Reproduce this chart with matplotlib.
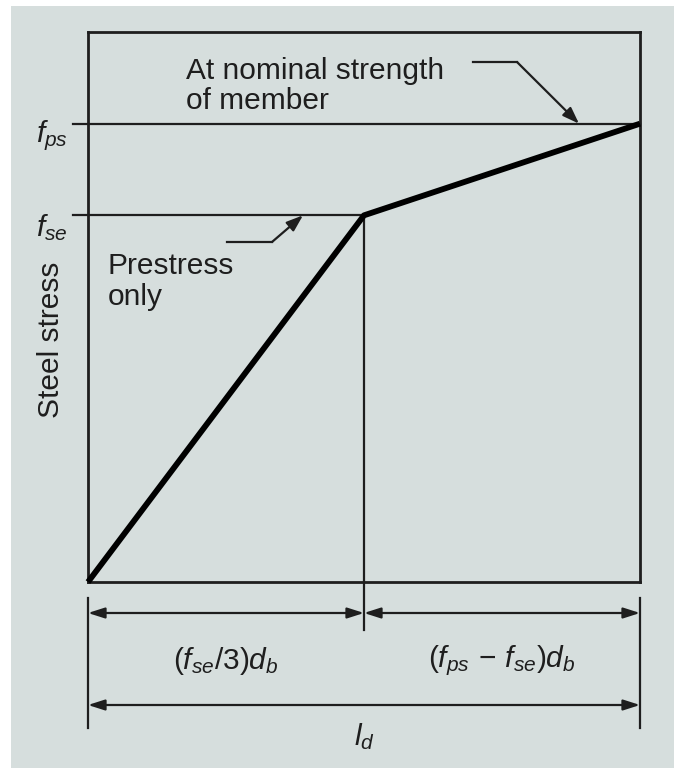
import matplotlib
matplotlib.use("Agg")
import matplotlib.pyplot as plt
from matplotlib.patches import Rectangle
from matplotlib.transforms import blended_transform_factory

plt.rcParams['font.family'] = ['Liberation Sans', 'DejaVu Sans']
plt.rcParams['mathtext.fontset'] = 'custom'
plt.rcParams['mathtext.rm'] = 'Liberation Sans'
plt.rcParams['mathtext.it'] = 'Liberation Sans:italic'
plt.rcParams['mathtext.bf'] = 'Liberation Sans:bold'

# ---- data (schematic) ----
length = [0.0, 1.0, 2.0]        # 0, transfer length, development length
stress = [0.0, 160.0, 200.0]    # 0, f_se, f_ps
stress_labels = ['$f_{se}$', '$f_{ps}$']
segment_labels = ['$(f_{se}/3)d_b$', r'$(f_{ps}\,-\,f_{se})d_b$']
total_label = '$l_d$'
y_label = 'Steel stress'
note_top = 'At nominal strength\nof member'
note_mid = 'Prestress\nonly'
x_max, y_max = 2.0, 240.0

W, H = 674, 769
BG = '#d6dedd'
INK = '#1e1e1e'
FS = 21.5
LW = 1.6

fig = plt.figure(figsize=(W / 100, H / 100), dpi=100)
fig.patch.set_facecolor('white')
fig.patches.append(Rectangle((11 / W, 1 / H), (W - 11) / W, 762 / H,
                             transform=fig.transFigure, facecolor=BG,
                             edgecolor='none', zorder=-10))

ax = fig.add_axes([88 / W, (H - 582) / H, 552 / W, 550 / H])
ax.set_facecolor('none')
ax.set_xlim(0, x_max)
ax.set_ylim(0, y_max)
ax.set_xticks([])
ax.set_yticks([])
for s in ax.spines.values():
    s.set_linewidth(2.0)
    s.set_color(INK)

def fy(py):
    return (H - py) / H

def fx(px):
    return px / W

def data_to_fx(xv):
    return fig.transFigure.inverted().transform(ax.transData.transform((xv, 0)))[0]

tb = blended_transform_factory(ax.transData, fig.transFigure)   # x data, y figure
ta = blended_transform_factory(fig.transFigure, ax.transData)   # x figure, y data

# reference lines at f_se and f_ps
ax.plot([fx(73), data_to_fx(length[1])], [stress[1], stress[1]], transform=ta,
        color=INK, lw=LW, clip_on=False)
ax.plot([fx(73), data_to_fx(length[2])], [stress[2], stress[2]], transform=ta,
        color=INK, lw=LW, clip_on=False)

# vertical at transfer length
ax.plot([length[1], length[1]], [stress[1], 0], color=INK, lw=LW)
ax.plot([length[1], length[1]], [fy(582), fy(630)], transform=tb, color=INK,
        lw=LW, clip_on=False)

# main stress curve
ax.plot(length, stress, color='black', lw=4.2, solid_capstyle='butt',
        solid_joinstyle='round', clip_on=False, zorder=5)

# stress labels
for lab, val in zip(stress_labels, stress[1:]):
    ax.annotate(lab, xy=(fx(52), val), xycoords=ta, xytext=(0, -12),
                textcoords='offset pixels', ha='center', va='center',
                fontsize=FS, color=INK)

ax.text(fx(51), fy(340), y_label, transform=fig.transFigure, rotation=90,
        ha='center', va='center', fontsize=FS, color=INK)

# notes with leaders
ax.text(fx(186), fy(57), note_top, transform=fig.transFigure, ha='left',
        va='top', fontsize=FS, color=INK, linespacing=1.08)
ax.text(fx(108), fy(252), note_mid, transform=fig.transFigure, ha='left',
        va='top', fontsize=FS, color=INK, linespacing=1.15)

arrow_kw = dict(arrowstyle='-|>,head_length=1.0,head_width=0.36', color=INK,
                lw=LW, shrinkA=0, shrinkB=0, mutation_scale=10)

def leader(p0, p1, tip_x, tip_val):
    ax.plot([fx(p0[0]), fx(p1[0])], [fy(p0[1]), fy(p1[1])],
            transform=fig.transFigure, color=INK, lw=LW, clip_on=False)
    ax.annotate('', xy=(tip_x, tip_val), xycoords=ta,
                xytext=(fx(p1[0]), fy(p1[1])), textcoords=fig.transFigure,
                arrowprops=arrow_kw)

leader((473, 62), (517, 62), fx(579), stress[2])
leader((227, 242), (272, 242), fx(303), stress[1])

# dimension lines
for xv in (length[0], length[2]):
    ax.plot([xv, xv], [fy(598), fy(728)], transform=tb, color=INK, lw=LW,
            clip_on=False)

dim_kw = dict(arrowstyle='<|-|>,head_length=1.0,head_width=0.32', color=INK,
              lw=LW, shrinkA=0, shrinkB=0, mutation_scale=10)
for a, b in [(length[0], length[1]), (length[1], length[2])]:
    ax.annotate('', xy=(b, fy(613)), xycoords=tb, xytext=(a, fy(613)),
                textcoords=tb, arrowprops=dim_kw)
ax.annotate('', xy=(length[2], fy(705)), xycoords=tb, xytext=(length[0], fy(705)),
            textcoords=tb, arrowprops=dim_kw)

for lab, a, b in zip(segment_labels, length[:-1], length[1:]):
    ax.text((a + b) / 2, fy(661), lab, transform=tb, ha='center', va='center',
            fontsize=FS, color=INK)
ax.text((length[0] + length[2]) / 2, fy(737), total_label, transform=tb,
        ha='center', va='center', fontsize=FS, color=INK)

fig.savefig('out.png', dpi=100, facecolor='white')
